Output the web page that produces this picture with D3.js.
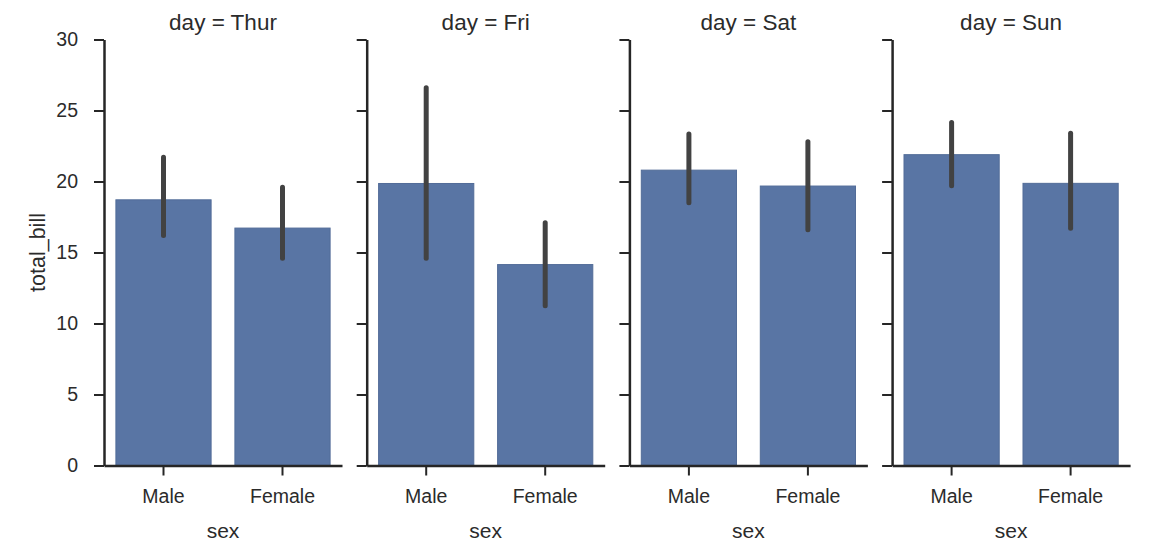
<!DOCTYPE html>
<html>
<head>
<meta charset="utf-8">
<script src="https://cdn.jsdelivr.net/npm/d3@7"></script>
<style>
  html, body { margin: 0; padding: 0; background: #fff; }
  svg { display: block; font-family: "Liberation Sans", Arial, sans-serif; }
</style>
</head>
<body>
<svg id="chart" width="1161" height="546"></svg>
<script>
// ---- data ----
const days = ["Thur", "Fri", "Sat", "Sun"];
const sexes = ["Male", "Female"];
const maleMean   = [18.71, 19.86, 20.80, 21.89];
const femaleMean = [16.72, 14.15, 19.68, 19.87];
const maleCiLow    = [16.2, 14.6, 18.5, 19.7];
const maleCiHigh   = [21.7, 26.6, 23.35, 24.15];
const femaleCiLow  = [14.6, 11.25, 16.6, 16.7];
const femaleCiHigh = [19.6, 17.1, 22.8, 23.4];
const yTicks = [0, 5, 10, 15, 20, 25, 30];

(function () {
// ---- layout ----
const svg = d3.select("#chart");
const plotTop = 39.5, plotBottom = 465.5;
const panelLeft0 = 104, panelStep = 262.7, panelW = 238;
const textColor = "#2b2b2b";
const axisColor = "#262626";
const barColor = "#5975a4";
const errColor = "#424242";

const y = d3.scaleLinear().domain([0, 30]).range([plotBottom, plotTop]);

days.forEach((day, i) => {
  const left = panelLeft0 + i * panelStep;
  const g = svg.append("g").attr("transform", `translate(${left},0)`);
  const x = d3.scaleBand().domain(sexes).range([0, panelW]).paddingInner(0.2).paddingOuter(0.1);

  const rows = sexes.map((s, k) => ({
    sex: s,
    mean: k === 0 ? maleMean[i] : femaleMean[i],
    lo: k === 0 ? maleCiLow[i] : femaleCiLow[i],
    hi: k === 0 ? maleCiHigh[i] : femaleCiHigh[i]
  }));

  // bars
  g.selectAll("rect.bar").data(rows).enter().append("rect")
    .attr("class", "bar")
    .attr("x", d => x(d.sex))
    .attr("width", x.bandwidth())
    .attr("y", d => y(d.mean))
    .attr("height", d => y(0) - y(d.mean))
    .attr("fill", barColor)
    .attr("stroke", "#526c98")
    .attr("stroke-width", 1);

  // error bars
  g.selectAll("line.err").data(rows).enter().append("line")
    .attr("class", "err")
    .attr("x1", d => x(d.sex) + x.bandwidth() / 2)
    .attr("x2", d => x(d.sex) + x.bandwidth() / 2)
    .attr("y1", d => y(d.lo))
    .attr("y2", d => y(d.hi))
    .attr("stroke", errColor)
    .attr("stroke-width", 5)
    .attr("stroke-linecap", "round");

  // y axis
  const yAxis = d3.axisLeft(y).tickValues(yTicks).tickSize(10).tickSizeOuter(0).tickPadding(16)
    .tickFormat(i === 0 ? d3.format("d") : () => "");
  const ya = g.append("g").call(yAxis);
  ya.select(".domain").attr("stroke", axisColor).attr("stroke-width", 2.5);
  ya.selectAll(".tick line").attr("stroke", axisColor).attr("stroke-width", 2);
  ya.selectAll(".tick text").attr("fill", textColor).attr("font-size", "19.5px")
    .attr("font-family", "Liberation Sans, Arial, sans-serif");

  // x axis
  const xAxis = d3.axisBottom(x).tickSize(10).tickSizeOuter(0).tickPadding(14);
  const xa = g.append("g").attr("transform", `translate(0,${plotBottom})`).call(xAxis);
  xa.select(".domain").attr("stroke", axisColor).attr("stroke-width", 2.5);
  xa.selectAll(".tick line").attr("stroke", axisColor).attr("stroke-width", 2);
  xa.selectAll(".tick text").attr("fill", textColor).attr("font-size", "19.5px")
    .attr("font-family", "Liberation Sans, Arial, sans-serif");

  // x label
  g.append("text")
    .attr("x", panelW / 2)
    .attr("y", 538)
    .attr("text-anchor", "middle")
    .attr("fill", textColor)
    .attr("font-size", "21px")
    .text("sex");

  // title
  g.append("text")
    .attr("x", panelW / 2)
    .attr("y", 30)
    .attr("text-anchor", "middle")
    .attr("fill", textColor)
    .attr("font-size", "22.5px")
    .text("day = " + day);
});

// y label
svg.append("text")
  .attr("transform", `translate(45,${(plotTop + plotBottom) / 2}) rotate(-90)`)
  .attr("text-anchor", "middle")
  .attr("fill", textColor)
  .attr("font-size", "21.5px")
  .text("total_bill");
})();
</script>
</body>
</html>
